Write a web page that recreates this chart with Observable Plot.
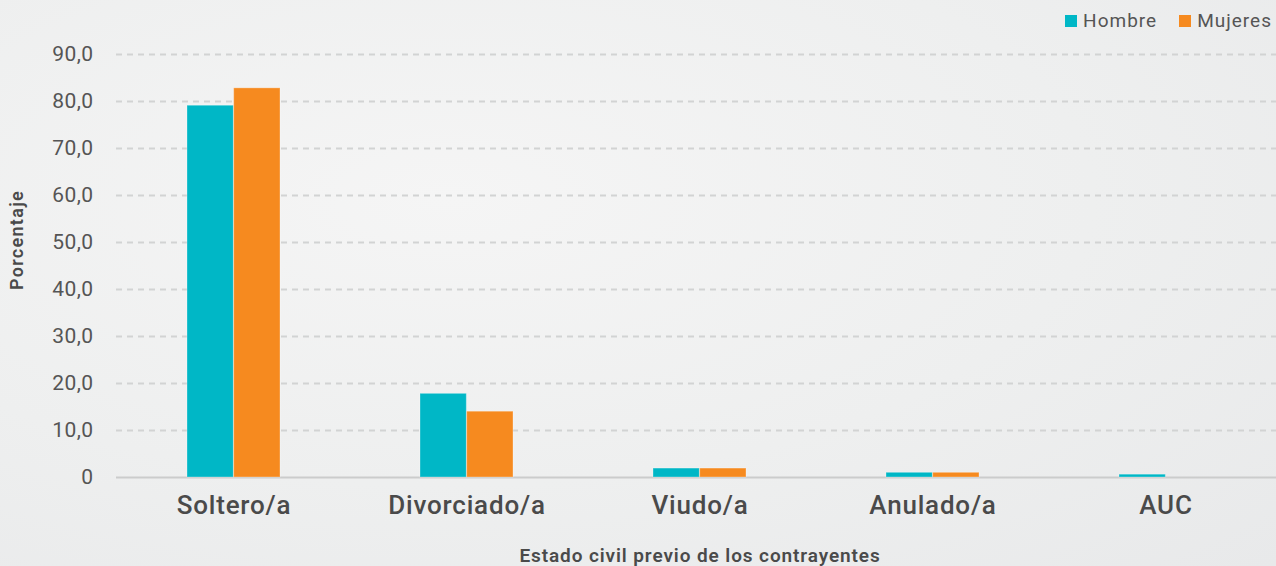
<!DOCTYPE html>
<html>
<head>
<meta charset="utf-8">
<script src="https://cdn.jsdelivr.net/npm/d3@7"></script>
<script src="https://cdn.jsdelivr.net/npm/@observablehq/plot@0.6"></script>
<style>
  html, body { margin: 0; padding: 0; }
  body {
    width: 1276px; height: 566px; overflow: hidden; position: relative;
    background: radial-gradient(ellipse at 35% 35%, #f5f5f5 0%, #eeefef 55%, #e8e9ea 100%);
    font-family: Roboto, "Noto Sans", sans-serif;
  }
  #chart { position: absolute; left: 0; top: 0; }
  #chart g[aria-label="y-axis tick label"] text { letter-spacing: 0.4px; }
  #chart g[aria-label="x-axis tick label"] text { letter-spacing: 0.8px; }
  #chart [aria-label="x-title"], #chart [aria-label="x-title"] text { letter-spacing: 0.9px; }
  #chart [aria-label="y-title"], #chart [aria-label="y-title"] text { letter-spacing: 1.3px; }
  #legend {
    position: absolute; top: 9px; right: 4px; display: flex; align-items: center;
    font-size: 19px; color: #555; letter-spacing: 1px;
  }
  #legend .item { display: flex; align-items: center; margin-left: 22px; }
  #legend .sw { width: 12px; height: 12px; margin-right: 6px; }
</style>
</head>
<body>
<div id="chart"></div>
<div id="legend"></div>
<script>
const categories = ["Soltero/a", "Divorciado/a", "Viudo/a", "Anulado/a", "AUC"];
const series = ["Hombre", "Mujeres"];
const hombre = [79.1, 17.8, 1.9, 1.0, 0.6];
const mujeres = [82.8, 14.0, 1.9, 1.0, 0.0];
const yTicks = [0, 10, 20, 30, 40, 50, 60, 70, 80, 90];
const colors = ["#00b7c6", "#f68a1f"];
const xTitle = "Estado civil previo de los contrayentes";
const yTitle = "Porcentaje";

const rowsH = categories.map((c, i) => ({cat: c, sex: series[0], value: hombre[i]}));
const rowsM = categories.map((c, i) => ({cat: c, sex: series[1], value: mujeres[i]}));

const fmt = d => d === 0 ? "0" : d.toFixed(1).replace(".", ",");
const half = (1283 - 116) / 5 * 0.4 / 2;

const chart = Plot.plot({
  width: 1276,
  height: 566,
  marginLeft: 116,
  marginRight: -7,
  marginTop: 54,
  marginBottom: 89,
  style: {background: "transparent", fontFamily: "Roboto, 'Noto Sans', sans-serif", color: "#4d4d4d"},
  x: {domain: categories, paddingInner: 0.6, paddingOuter: 0.3, label: null},
  y: {domain: [0, 90], label: null},
  marks: [
    Plot.ruleY(yTicks.filter(d => d > 0), {stroke: "#d2d3d3", strokeWidth: 2, strokeDasharray: "6,5"}),
    Plot.ruleY([0], {stroke: "#cbcccc", strokeWidth: 2}),
    Plot.barY(rowsH, {x: "cat", y: "value", fill: colors[0], insetRight: half, stroke: "#ffffff", strokeOpacity: 0.3, strokeWidth: 1}),
    Plot.barY(rowsM, {x: "cat", y: "value", fill: colors[1], insetLeft: half, stroke: "#ffffff", strokeOpacity: 0.3, strokeWidth: 1}),
    Plot.axisY({ticks: yTicks, tickFormat: fmt, tickSize: 0, tickPadding: 23, fontSize: 21, label: null, fill: "#555"}),
    Plot.axisX({tickSize: 0, tickPadding: 18, fontSize: 26, fontWeight: 500, label: null, fill: "#4a4a4a"}),
    Plot.text([xTitle], {ariaLabel: () => "x-title", frameAnchor: "bottom", dy: 78, lineAnchor: "middle", textAnchor: "middle", fontSize: 19, fontWeight: 600, fill: "#4a4a4a"}),
    Plot.text([yTitle], {ariaLabel: () => "y-title", frameAnchor: "left", dx: -99, dy: -26, rotate: -90, textAnchor: "middle", lineAnchor: "middle", fontSize: 18, fontWeight: 600, fill: "#4a4a4a"})
  ]
});
document.getElementById("chart").appendChild(chart);

const legend = document.getElementById("legend");
series.forEach((s, i) => {
  const item = document.createElement("div");
  item.className = "item";
  const sw = document.createElement("div");
  sw.className = "sw";
  sw.style.background = colors[i];
  const label = document.createElement("span");
  label.textContent = s;
  item.appendChild(sw);
  item.appendChild(label);
  legend.appendChild(item);
});
</script>
</body>
</html>
